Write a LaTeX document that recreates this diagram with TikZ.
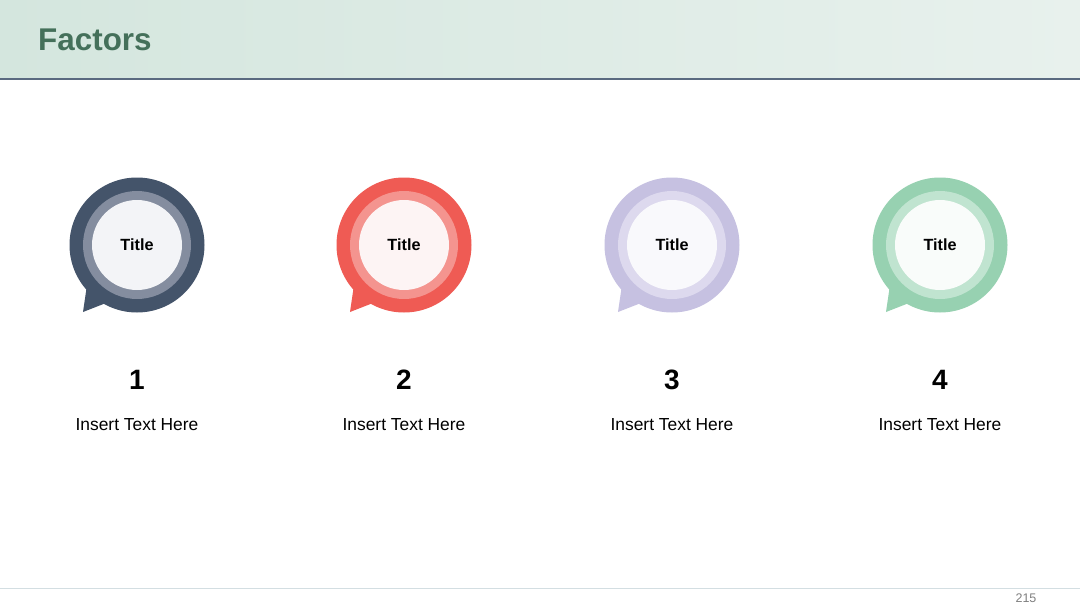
\documentclass[tikz,border=0pt]{standalone}
\usepackage{fontspec}
\setmainfont{Liberation Sans}
\usetikzlibrary{positioning}

\definecolor{headL}{HTML}{D4E6DE}
\definecolor{headR}{HTML}{E8F1ED}
\definecolor{headline}{HTML}{5A6A80}
\definecolor{factgreen}{HTML}{44705A}
\definecolor{footline}{HTML}{D3DEE2}
\definecolor{pagegray}{HTML}{7F7F7F}
\definecolor{outA}{HTML}{44546A}
\definecolor{ringA}{HTML}{848D9F}
\definecolor{coreA}{HTML}{F3F4F7}
\definecolor{outB}{HTML}{EF5B54}
\definecolor{ringB}{HTML}{F4948F}
\definecolor{coreB}{HTML}{FDF4F4}
\definecolor{outC}{HTML}{C6C1E1}
\definecolor{ringC}{HTML}{DDD9EE}
\definecolor{coreC}{HTML}{F9F9FC}
\definecolor{outD}{HTML}{97D1B1}
\definecolor{ringD}{HTML}{C0E4D0}
\definecolor{coreD}{HTML}{F9FCFA}

\begin{document}
\begin{tikzpicture}[x=1pt,y=-1pt]
	\tikzstyle{every node}+=[inner sep=0pt]
	\tikzstyle{disc}=[circle, minimum size=#1]
	\useasboundingbox (0,0) rectangle (1080,608);
	\fill [white] (0,0) rectangle (1080,608);
	% header band
	\shade [left color=headL, right color=headR] (0,0) rectangle (1080,78);
	\draw [headline, line width=2pt] (0,79) -- (1080,79);
	\node [anchor=west, text=factgreen, font=\bfseries\fontsize{31.4}{31.4}\selectfont] (factors) at (38,40) {Factors};
	% footer
	\draw [footline, line width=1pt] (0,588) -- (1080,588);
	\node [text=pagegray, font=\fontsize{12.5}{12.5}\selectfont] (page) at (1026,598) {215};
	% the four bubbles
	\foreach \i/\x/\o/\r/\c in {1/137/outA/ringA/coreA, 2/404/outB/ringB/coreB, 3/672/outC/ringC/coreC, 4/940/outD/ringD/coreD}{
		\fill [\o] (\x-50,285) -- (\x-54,312) -- (\x-31,303) -- cycle;
		\node [disc=135pt, fill=\o] (bub\i) at (\x,245) {};
		\node [disc=108pt, fill=\r] (ring\i) at (bub\i) {};
		\node [disc=90pt, fill=\c, font=\bfseries\fontsize{16.2}{16.2}\selectfont] (core\i) at (bub\i) {Title};
		\node [font=\bfseries\fontsize{28}{28}\selectfont] (num\i) at (\x,380) {\i};
		\node [font=\fontsize{17.4}{17.4}\selectfont] (txt\i) at (\x,425) {Insert Text Here};
	}
\end{tikzpicture}
\end{document}
